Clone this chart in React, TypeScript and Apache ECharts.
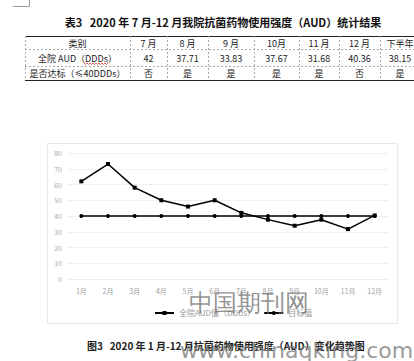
import React, { useEffect, useRef } from "react";
import * as echarts from "echarts";

const categories = ["1月", "2月", "3月", "4月", "5月", "6月", "7月", "8月", "9月", "10月", "11月", "12月"];
const audValues = [62, 73, 58, 50, 46, 50, 42, 37.71, 33.83, 37.67, 31.68, 40.36];
const targetValues = [40, 40, 40, 40, 40, 40, 40, 40, 40, 40, 40, 40];
const yTicks = { min: 0, max: 80, interval: 10 };

const tableTitle = "表3   2020 年 7 月-12 月我院抗菌药物使用强度（AUD）统计结果";
const tableHeader = ["类别", "7 月", "8 月", "9 月", "10月", "11 月", "12 月", "下半年"];
const tableAud = ["全院 AUD（DDDs）", "42", "37.71", "33.83", "37.67", "31.68", "40.36", "38.15"];
const tableMet = ["是否达标（≤40DDDs）", "否", "是", "是", "是", "是", "否", "是"];
const figCaption = "图3   2020 年 1 月-12 月抗菌药物使用强度（AUD）变化趋势图";
const seriesNames = ["全院AUD值（DDDs）", "目标值"];

const FONT = "'Noto Sans CJK SC', 'Noto Sans', sans-serif";

export default function App() {
  const ref = useRef<HTMLDivElement>(null);
  useEffect(() => {
    if (!ref.current) return;
    const chart = echarts.init(ref.current, undefined, { renderer: "svg" });

    const colEdges = [25, 130, 167, 208, 254, 299, 339, 380, 430];
    const rowTops = [36, 49, 66, 80];
    const graphics: any[] = [];

    // corner mark
    graphics.push({ type: "line", shape: { x1: 29.5, y1: 0, x2: 29.5, y2: 6.5 }, style: { stroke: "#9a9a9a", lineWidth: 1 } });
    graphics.push({ type: "line", shape: { x1: 13, y1: 6.5, x2: 29.5, y2: 6.5 }, style: { stroke: "#9a9a9a", lineWidth: 1 } });

    // table title
    graphics.push({
      type: "text", x: 223, y: 22,
      style: { text: tableTitle, font: `bold 11px ${FONT}`, fill: "#111", align: "center", verticalAlign: "middle" },
    });

    // table lines
    graphics.push({ type: "line", shape: { x1: 25, y1: rowTops[0] + 0.5, x2: 414, y2: rowTops[0] + 0.5 }, style: { stroke: "#222", lineWidth: 1 } });
    graphics.push({ type: "line", shape: { x1: 25, y1: rowTops[3] + 0.5, x2: 414, y2: rowTops[3] + 0.5 }, style: { stroke: "#222", lineWidth: 1 } });
    [rowTops[1], rowTops[2]].forEach((y) => {
      graphics.push({ type: "line", shape: { x1: 25, y1: y + 0.5, x2: 414, y2: y + 0.5 }, style: { stroke: "#aaa", lineWidth: 1, lineDash: [2, 2] } });
    });
    colEdges.slice(0, 8).forEach((x) => {
      graphics.push({ type: "line", shape: { x1: x + 0.5, y1: rowTops[0], x2: x + 0.5, y2: rowTops[3] }, style: { stroke: "#aaa", lineWidth: 1, lineDash: [2, 2] } });
    });

    const rows = [tableHeader, tableAud, tableMet];
    rows.forEach((row, ri) => {
      const cy = (rowTops[ri] + rowTops[ri + 1]) / 2 + 0.5;
      row.forEach((cell, ci) => {
        let cx = (colEdges[ci] + colEdges[ci + 1]) / 2;
        if (ci === 7) cx = 400;
        graphics.push({
          type: "text", x: cx, y: cy,
          style: { text: cell, font: `9px ${FONT}`, fill: "#222", align: "center", verticalAlign: "middle" },
        });
      });
    });
    // spell-check squiggle
    const squig: number[][] = [];
    for (let x = 84, i = 0; x <= 108; x += 1.5, i++) squig.push([x, i % 2 === 0 ? 63 : 64.5]);
    graphics.push({ type: "polyline", shape: { points: squig }, style: { stroke: "#e03030", lineWidth: 0.8, fill: "none" } });

    // chart frame
    graphics.push({ type: "rect", shape: { x: 47.5, y: 143.5, width: 350, height: 180 }, style: { fill: "none", stroke: "#e8e8e8", lineWidth: 1 }, z: -1 });

    // caption
    graphics.push({
      type: "text", x: 87, y: 345,
      style: { text: figCaption, font: `bold 10px ${FONT}`, fill: "#222", align: "left", verticalAlign: "middle" },
    });

    // watermarks
    graphics.push({
      type: "text", x: 189, y: 303, z: 100,
      style: { text: "中国期刊网", font: `24px 'DejaVu Serif', serif`, fill: "rgba(110,110,110,0.75)", align: "left", verticalAlign: "middle" },
    });
    graphics.push({
      type: "text", x: 180, y: 350, z: 100,
      style: { text: "www.chinaqking.com", font: `22px 'DejaVu Sans', sans-serif`, fill: "rgba(120,120,120,0.75)", align: "left", verticalAlign: "middle" },
    });

    chart.setOption({
      animation: false,
      backgroundColor: "#fff",
      grid: { left: 68, right: 26, top: 153, bottom: 82, containLabel: false },
      legend: {
        left: 149, top: 304, itemWidth: 19, itemHeight: 5, itemGap: 8,
        textStyle: { fontSize: 8, color: "#9a9a9a", fontFamily: FONT },
        data: seriesNames,
      },
      xAxis: {
        type: "category", data: categories, boundaryGap: true,
        axisLine: { show: true, lineStyle: { color: "#ececec" } },
        axisTick: { show: false },
        axisLabel: { fontSize: 7, color: "#a0a0a0", margin: 8, fontFamily: FONT },
      },
      yAxis: {
        type: "value", min: yTicks.min, max: yTicks.max, interval: yTicks.interval,
        axisLine: { show: false }, axisTick: { show: false },
        axisLabel: { fontSize: 7, color: "#b0a8a4", margin: 6, fontFamily: FONT },
        splitLine: { lineStyle: { color: "#f0f0f0" } },
      },
      series: [
        {
          name: seriesNames[0], type: "line", data: audValues,
          symbol: "rect", symbolSize: 4,
          lineStyle: { color: "#000", width: 1.5 }, itemStyle: { color: "#000" },
        },
        {
          name: seriesNames[1], type: "line", data: targetValues,
          symbol: "circle", symbolSize: 4,
          lineStyle: { color: "#000", width: 1.5 }, itemStyle: { color: "#000" },
        },
      ],
      graphic: graphics,
    });
    return () => chart.dispose();
  }, []);
  return (
    <div ref={ref} style={{ position: "absolute", left: 0, top: 0, width: 414, height: 361, background: "#fff" }} />
  );
}
